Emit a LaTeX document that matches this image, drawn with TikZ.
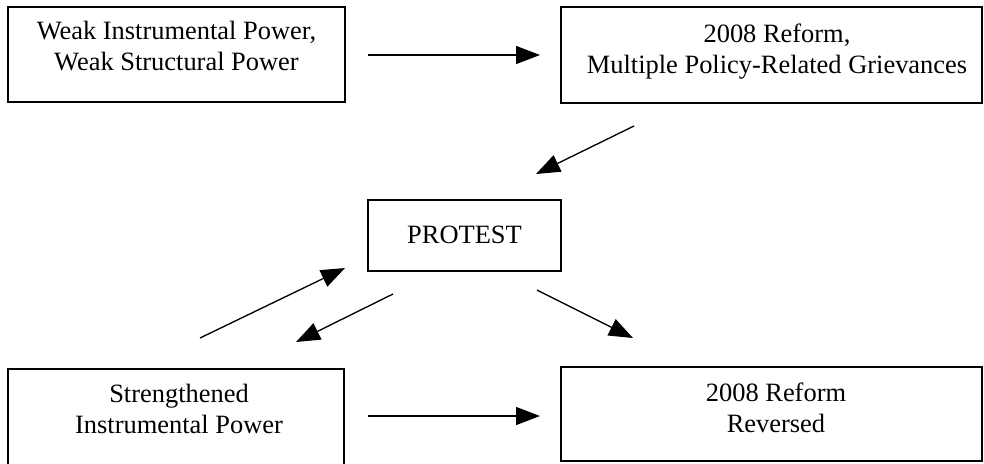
\documentclass[tikz,border=0pt]{standalone}
\usepackage{fontspec}
\setmainfont{Liberation Serif}
\usetikzlibrary{arrows.meta}

\tikzset{
  box/.style={draw, line width=1pt, inner sep=0pt, outer sep=0pt},
  lbl/.style={font=\fontsize{18.8}{21.6}\selectfont, align=center, anchor=base, inner sep=0pt},
}

\begin{document}
\begin{tikzpicture}[>={Triangle[length=0.6cm,width=0.45cm]}, x=0.025cm, y=-0.025cm, line width=0.95pt]
                \useasboundingbox (0,0) rectangle (984,463);
                \clip (0,0) rectangle (984,463);

                % boxes
                \node[box, minimum width=8.425cm, minimum height=2.375cm] (weak) at (176.5,54.5) {};
                \node[box, minimum width=10.525cm, minimum height=2.4cm] (reform) at (771.5,55) {};
                \node[box, minimum width=4.825cm, minimum height=1.775cm] (protest) at (464.5,235.5) {};
                \node[box, minimum width=8.4cm, minimum height=2.65cm] (strong) at (176,422) {};
                \node[box, minimum width=10.525cm, minimum height=2.35cm] (reversed) at (771.5,414) {};

                % texts (base = last line)
                \node[lbl] (weak-t) at (176.5,70) {Weak Instrumental Power,\\Weak Structural Power};
                \node[lbl] (reform-t) at (777,73) {2008 Reform,\\Multiple Policy-Related Grievances};
                \node[lbl] (protest-t) at (464.5,243) {PROTEST};
                \node[lbl] (strong-t) at (179,433) {Strengthened\\Instrumental Power};
                \node[lbl] (reversed-t) at (776,432) {2008 Reform\\Reversed};

                % arrow ends
                \coordinate (top-s) at (368,55);
                \coordinate (top-e) at (540,55);
                \coordinate (in-s) at (634,126);
                \coordinate (in-e) at (536,174);
                \coordinate (up-s) at (200,338);
                \coordinate (up-e) at (345,268);
                \coordinate (dl-s) at (393,294);
                \coordinate (dl-e) at (296,342);
                \coordinate (dr-s) at (537,290);
                \coordinate (dr-e) at (633,338);
                \coordinate (bot-s) at (368,416);
                \coordinate (bot-e) at (540,416);

                \draw[->] (top-s)--(top-e);
                \draw[->] (in-s)--(in-e);
                \draw[->] (up-s)--(up-e);
                \draw[->] (dl-s)--(dl-e);
                \draw[->] (dr-s)--(dr-e);
                \draw[->] (bot-s)--(bot-e);
\end{tikzpicture}
\end{document}
